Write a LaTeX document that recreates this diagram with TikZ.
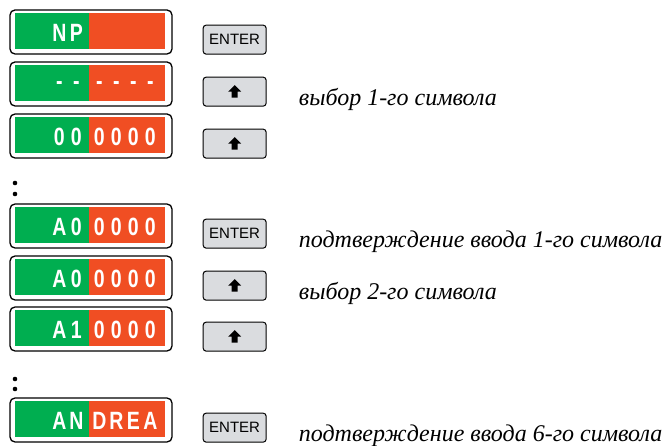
\documentclass[tikz,border=0pt]{standalone}
\usepackage{fontspec}
\setmainfont{Liberation Serif}
\newfontfamily\lcdfont{Liberation Sans}[FakeStretch=0.78]
\newfontfamily\keyfont{Liberation Sans}
\usetikzlibrary{positioning}
\definecolor{lcdgreen}{RGB}{0,174,80}
\definecolor{lcdred}{RGB}{240,78,35}
\definecolor{keygrey}{RGB}{218,220,223}

% one display line: [baseline drop], name, centre y, characters
\newcommand\lcdline[4][10]{%
  \node[frame] (#2) at (91,#3) {};
  \fill[lcdgreen] ([xshift=6pt,yshift=-4pt]#2.north west) rectangle ++(74,36);
  \fill[lcdred] ([xshift=80pt,yshift=-4pt]#2.north west) rectangle ++(76,36);
  \foreach \ch [count=\i] in {#4} {
    \pgfmathsetmacro\dx{{50,67,90,107,124,141}[\i-1]}
    \node[digit] at ([xshift=\dx pt,yshift=-#1pt]#2.west) {\ch};
  }
}

\begin{document}
\begin{tikzpicture}[x=1pt,y=-1pt,
  frame/.style={draw, line width=1.3pt, rounded corners=5pt, fill=white,
    minimum width=162pt, minimum height=44pt, inner sep=0pt},
  keybox/.style={draw, line width=1pt, rounded corners=3pt, fill=keygrey,
    minimum width=63pt, minimum height=29pt, inner sep=0pt,
    font=\keyfont\fontsize{15}{15}\selectfont},
  digit/.style={text=white, inner sep=0pt, anchor=base,
    font=\lcdfont\bfseries\fontsize{25}{25}\selectfont},
  note/.style={anchor=base west, inner sep=0pt,
    font=\itshape\fontsize{24}{24}\selectfont},
  dot/.style={circle, fill, inner sep=0pt, minimum size=4.6pt},
  upkey/.pic={\fill (0,-6.5) -- (6.5,0) -- (3,0) -- (3,6) -- (-3,6)
    -- (-3,0) -- (-6.5,0) -- cycle;}
]
\useasboundingbox (0,0) rectangle (665,446);

% display lines
\lcdline{d1}{32}{N,P}
\lcdline[6]{d2}{84}{-,-,-,-,-,-}
\lcdline{d3}{136}{0,0,0,0,0,0}
\lcdline{d4}{226}{A,0,0,0,0,0}
\lcdline{d5}{278}{A,0,0,0,0,0}
\lcdline{d6}{329}{A,1,0,0,0,0}
\lcdline{d7}{420}{A,N,D,R,E,A}

% keys
\node[keybox, anchor=south west] (k1) at ([xshift=30pt]d1.south east) {ENTER};
\node[keybox, anchor=south west] (k2) at ([xshift=30pt]d2.south east) {};
\node[keybox, anchor=south west] (k3) at ([xshift=30pt]d3.south east) {};
\node[keybox, anchor=south west] (k4) at ([xshift=30pt]d4.south east) {ENTER};
\node[keybox, anchor=south west] (k5) at ([xshift=30pt]d5.south east) {};
\node[keybox, anchor=south west] (k6) at ([xshift=30pt]d6.south east) {};
\node[keybox, anchor=south west] (k7) at ([xshift=30pt]d7.south east) {ENTER};
\pic at (k2) {upkey};
\pic at (k3) {upkey};
\pic at (k5) {upkey};
\pic at (k6) {upkey};

% notes
\node[note] (n2) at ([xshift=32pt,yshift=1pt]k2.south east) {выбор 1-го символа};
\node[note] (n4) at ([xshift=32pt,yshift=1pt]k4.south east) {подтверждение ввода 1-го символа};
\node[note] (n5) at ([xshift=32pt,yshift=1pt]k5.south east) {выбор 2-го символа};
\node[note] (n7) at ([xshift=32pt,yshift=1pt]k7.south east) {подтверждение ввода 6-го символа};

% skipped lines
\node[dot] (p1) at (15,183) {};
\node[dot] (p2) at (15,194) {};
\node[dot] (p3) at (15,379) {};
\node[dot] (p4) at (15,389) {};
\end{tikzpicture}
\end{document}
